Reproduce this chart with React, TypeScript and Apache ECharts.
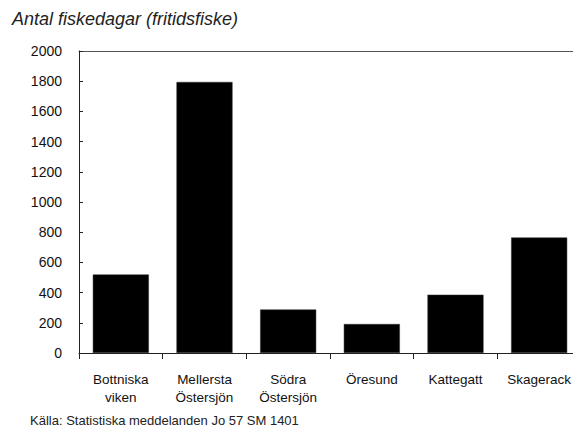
import React, { useEffect, useRef } from "react";
import * as echarts from "echarts";

const categories = ["Bottniska\nviken", "Mellersta\nÖstersjön", "Södra\nÖstersjön", "Öresund", "Kattegatt", "Skagerack"];
const values = [520, 1795, 288, 192, 386, 765];
const titleText = "Antal fiskedagar (fritidsfiske)";
const sourceText = "Källa: Statistiska meddelanden Jo 57 SM 1401";

const narrow = "'Liberation Sans Narrow', 'Liberation Sans', Arial, sans-serif";

export default function App() {
  const ref = useRef<HTMLDivElement>(null);
  useEffect(() => {
    if (!ref.current) return;
    const chart = echarts.init(ref.current, undefined, { renderer: "svg" });
    chart.setOption({
      animation: false,
      backgroundColor: "#fff",
      title: {
        text: titleText,
        left: 4,
        top: 2,
        padding: 0,
        textStyle: { fontFamily: "'Liberation Sans', Arial, sans-serif", fontStyle: "italic", fontWeight: "normal", fontSize: 18, color: "#222" },
      },
      graphic: [
        {
          type: "text",
          left: 22,
          top: 406,
          style: { text: sourceText, font: `13px ${narrow}`, fill: "#222" },
        },
      ],
      grid: { left: 71, right: 0, top: 43, bottom: 77, containLabel: false },
      xAxis: [
        {
          type: "category",
          data: categories,
          axisLine: { lineStyle: { color: "#222", width: 1 } },
          axisTick: { show: true, inside: false, length: 6, lineStyle: { color: "#222" } },
          axisLabel: { color: "#111", fontFamily: narrow, fontSize: 13.5, lineHeight: 18, margin: 17, interval: 0 },
        },
        {
          type: "category",
          position: "top",
          data: categories,
          axisLine: { show: true, lineStyle: { color: "#555", width: 1 } },
          axisTick: { show: false },
          axisLabel: { show: false },
        },
      ],
      yAxis: {
        type: "value",
        min: 0,
        max: 2000,
        interval: 200,
        axisLine: { show: true, lineStyle: { color: "#222" } },
        axisTick: { show: true, inside: true, length: 4, lineStyle: { color: "#222" } },
        splitLine: { show: false },
        axisLabel: { color: "#111", fontFamily: narrow, fontSize: 14, margin: 17, formatter: (v: number) => String(v) },
      },
      series: [
        {
          type: "bar",
          data: values,
          xAxisIndex: 0,
          barCategoryGap: "33%",
          itemStyle: { color: "#000", borderColor: "#333", borderWidth: 0.5 },
        },
      ],
    });
    return () => chart.dispose();
  }, []);
  return <div ref={ref} style={{ width: 573, height: 422 }} />;
}
